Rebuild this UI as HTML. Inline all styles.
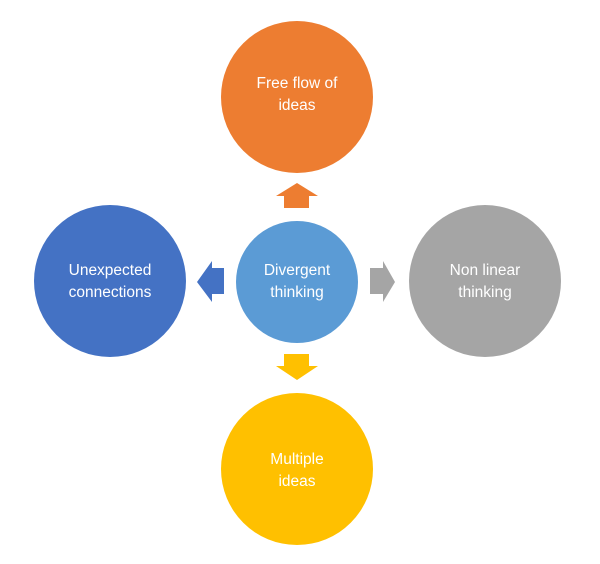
<!DOCTYPE html>
<html><head><style>
html,body{margin:0;padding:0;background:#fff;width:600px;height:564px;overflow:hidden}
text{font-family:"Liberation Sans",sans-serif;font-size:15.5px;fill:#fff;text-anchor:middle}
</style></head><body>
<svg width="600" height="564" viewBox="0 0 600 564">
<circle cx="297" cy="97" r="76" fill="#ED7D31"/>
<circle cx="110" cy="281" r="76" fill="#4472C4"/>
<circle cx="485" cy="281" r="76" fill="#A5A5A5"/>
<circle cx="297" cy="469" r="76" fill="#FFC000"/>
<circle cx="297" cy="282" r="61" fill="#5B9BD5"/>
<polygon points="297,183 318,196 309,196 309,208 284,208 284,196 276,196" fill="#ED7D31"/>
<polygon points="197,282 212,261 212,268 224,268 224,294 212,294 212,302" fill="#4472C4"/>
<polygon points="395,282 383,261 383,268 370,268 370,294 383,294 383,302" fill="#A5A5A5"/>
<polygon points="297,380 318,366 309,366 309,354 284,354 284,366 276,366" fill="#FFC000"/>
<text x="297" y="88">Free flow of</text><text x="297" y="110">ideas</text>
<text x="110" y="275">Unexpected</text><text x="110" y="297">connections</text>
<text x="485" y="275">Non linear</text><text x="485" y="297">thinking</text>
<text x="297" y="464">Multiple</text><text x="297" y="486">ideas</text>
<text x="297" y="275">Divergent</text><text x="297" y="297">thinking</text>
</svg>
</body></html>
